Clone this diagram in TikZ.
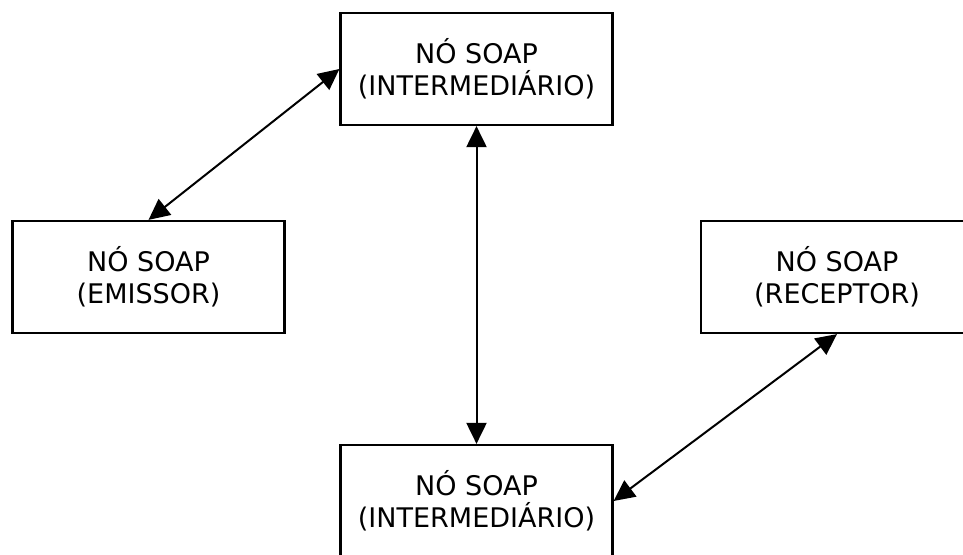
\documentclass[tikz,border=0pt]{standalone}
\usepackage{fontspec}
\setmainfont{DejaVu Sans}
\usetikzlibrary{arrows.meta}
\begin{document}
\begin{tikzpicture}[x=1pt,y=1pt,
  soapnode/.style={draw=black, line width=2.2pt, minimum width=272pt, minimum height=112pt,
    inner sep=0pt, align=center, font=\fontsize{27}{32}\selectfont},
  link/.style={line width=2pt, {Triangle[length=21pt,width=20pt]}-{Triangle[length=21pt,width=20pt]}}]
  \useasboundingbox (0,0) rectangle (963,554);
  \clip (0,0) rectangle (963,554);
  \fill[white] (0,0) rectangle (963,554);
  % the four SOAP nodes
  \node[soapnode] (mid1) at (476.5,485) {NÓ SOAP\\(INTERMEDIÁRIO)};
  \node[soapnode] (emit) at (148.5,277) {NÓ SOAP\\(EMISSOR)};
  \node[soapnode] (recv) at (837,277) {NÓ SOAP\\(RECEPTOR)};
  \node[soapnode] (mid2) at (476.5,53) {NÓ SOAP\\(INTERMEDIÁRIO)};
  % message paths between the nodes
  \draw[link] (emit.north) -- (mid1.west);
  \draw[link] (mid1.south) -- (mid2.north);
  \draw[link] (mid2.east) -- (recv.south);
\end{tikzpicture}
\end{document}
